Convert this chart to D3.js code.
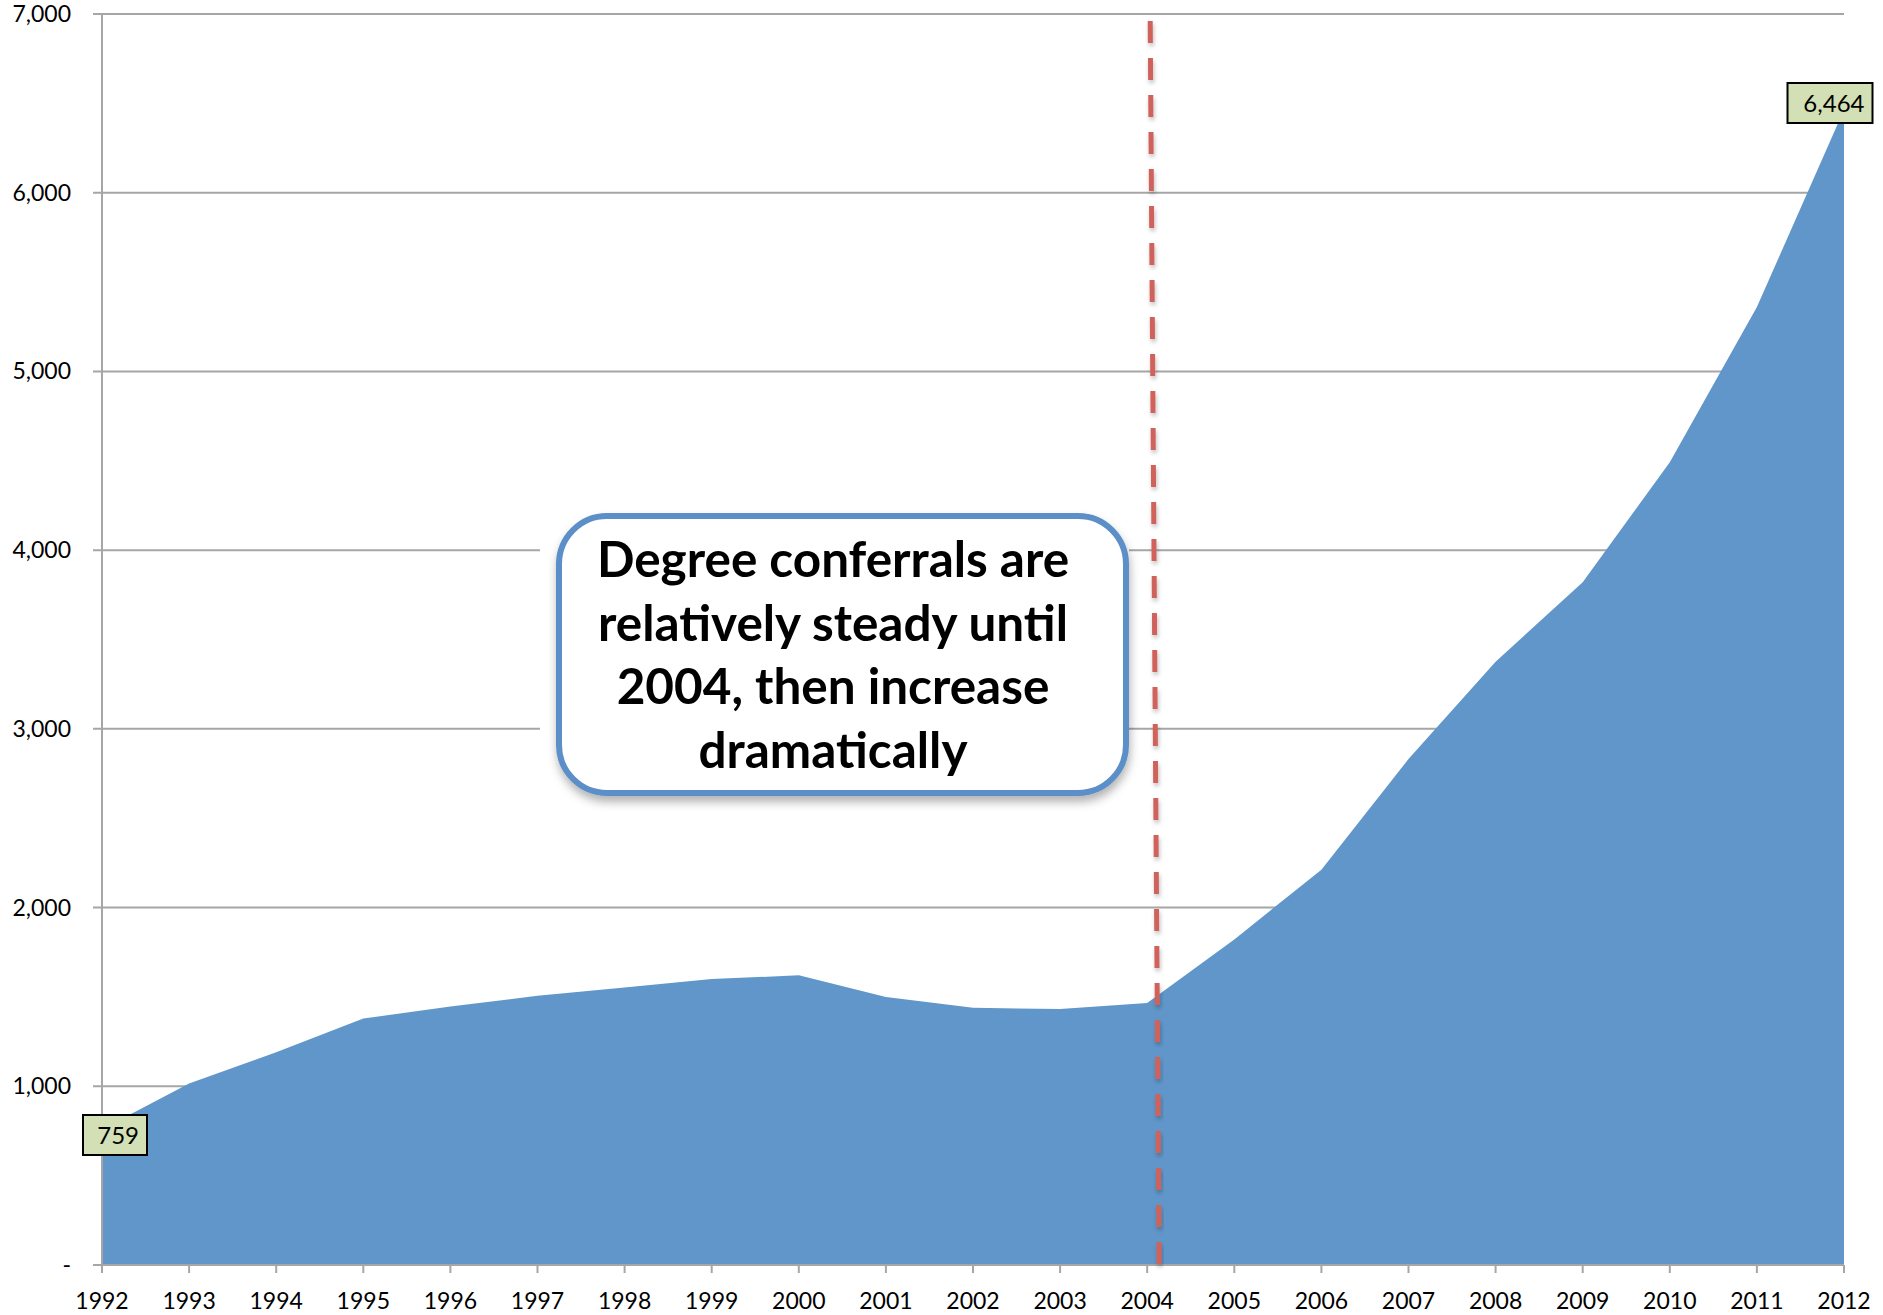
<!DOCTYPE html>
<html><head><meta charset="utf-8">
<script src="https://cdn.jsdelivr.net/npm/d3@7"></script>
<style>body{margin:0;background:#fff}svg{display:block}</style>
</head><body>
<svg id="c" width="1883" height="1315"></svg>
<script>
const years = [1992,1993,1994,1995,1996,1997,1998,1999,2000,2001,2002,2003,2004,2005,2006,2007,2008,2009,2010,2011,2012];
const conferrals = [759,1015,1190,1379,1446,1506,1553,1600,1621,1500,1439,1432,1466,1822,2212,2831,3376,3820,4492,5360,6464];
const yTicks = [0,1000,2000,3000,4000,5000,6000,7000];
const yTickLabels = ["-","1,000","2,000","3,000","4,000","5,000","6,000","7,000"];
const calloutLines = ["Degree conferrals are","relatively steady until","2004, then increase","dramatically"];
const markerYear = 2004;

const svg = d3.select("#c");
const L=102,R=1844,T=14,B=1265;
const x = d3.scaleLinear().domain([1992,2012]).range([L,R]);
const y = d3.scaleLinear().domain([0,7000]).range([B,T]);
const font = "Lato, 'Open Sans', sans-serif";

const defs = svg.append("defs");
const f1 = defs.append("filter").attr("id","sh").attr("x","-20%").attr("y","-20%").attr("width","140%").attr("height","140%");
f1.append("feDropShadow").attr("dx",1).attr("dy",6).attr("stdDeviation",5).attr("flood-color","#000").attr("flood-opacity",0.3);
const f2 = defs.append("filter").attr("id","sh2").attr("x","-50%").attr("y","-5%").attr("width","200%").attr("height","110%");
f2.append("feDropShadow").attr("dx",1).attr("dy",3).attr("stdDeviation",2).attr("flood-color","#000").attr("flood-opacity",0.25);

// gridlines
svg.append("g").selectAll("line").data(yTicks).join("line")
  .attr("x1",L-9).attr("x2",R).attr("y1",d=>y(d)).attr("y2",d=>y(d))
  .attr("stroke","#a6a6a6").attr("stroke-width",2);

// area
const area = d3.area().x((d,i)=>x(years[i])).y0(B).y1(d=>y(d));
svg.append("path").datum(conferrals).attr("d",area).attr("fill","#6096c9");

// axes lines
svg.append("line").attr("x1",L).attr("x2",L).attr("y1",T).attr("y2",B).attr("stroke","#a6a6a6").attr("stroke-width",2);
svg.append("line").attr("x1",L).attr("x2",R).attr("y1",B).attr("y2",B).attr("stroke","#a6a6a6").attr("stroke-width",2);
svg.append("g").selectAll("line").data(years).join("line")
  .attr("x1",d=>x(d)).attr("x2",d=>x(d)).attr("y1",B).attr("y2",B+8)
  .attr("stroke","#a6a6a6").attr("stroke-width",2);

// tick labels
svg.append("g").selectAll("text").data(years).join("text")
  .attr("x",d=>x(d)).attr("y",B+44).attr("text-anchor","middle")
  .attr("font-family",font).attr("font-size",23).attr("fill","#000").text(d=>d);
svg.append("g").selectAll("text").data(yTicks).join("text")
  .attr("x",71).attr("y",d=>y(d)+8).attr("text-anchor","end")
  .attr("font-family",font).attr("font-size",23).attr("fill","#000").text((d,i)=>yTickLabels[i]);

// callout
const bx=556,by=513,bw=573,bh=283;
svg.append("rect").attr("x",bx-16).attr("y",by).attr("width",bw+16).attr("height",bh).attr("fill","#fff");
svg.append("rect").attr("x",bx+3).attr("y",by+3).attr("width",bw-6).attr("height",bh-6).attr("rx",48).attr("ry",48)
  .attr("fill","#fff").attr("stroke","#5b8fc7").attr("stroke-width",6).attr("filter","url(#sh)");
const tt = svg.append("g").selectAll("text").data(calloutLines).join("text")
  .attr("x",833).attr("y",(d,i)=>577+i*63.5).attr("text-anchor","middle")
  .attr("font-family",font).attr("font-weight","bold").attr("font-size",60).attr("fill","#000").text(d=>d);
const w = tt.nodes()[1].getComputedTextLength();
tt.attr("font-size",60*470/w);

// dashed marker line
svg.append("line").attr("x1",x(markerYear)+3).attr("x2",x(markerYear)+12).attr("y1",21).attr("y2",1275)
  .attr("stroke","#d0625b").attr("stroke-width",5).attr("stroke-dasharray","22,15").attr("filter","url(#sh2)");

// data labels
function dl(val,cx,cy,w,h){
  const g = svg.append("g");
  g.append("rect").attr("x",cx-w/2).attr("y",cy-h/2).attr("width",w).attr("height",h)
    .attr("fill","#d3e0b5").attr("stroke","#000").attr("stroke-width",2);
  g.append("text").attr("x",cx+w/2-8).attr("y",cy+9).attr("text-anchor","end")
    .attr("font-family",font).attr("font-size",24).attr("fill","#000").text(d3.format(",")(val));
}
dl(conferrals[0],115,1135,64,40);
dl(conferrals[conferrals.length-1],1830,103,85,40);
</script>
</body></html>
